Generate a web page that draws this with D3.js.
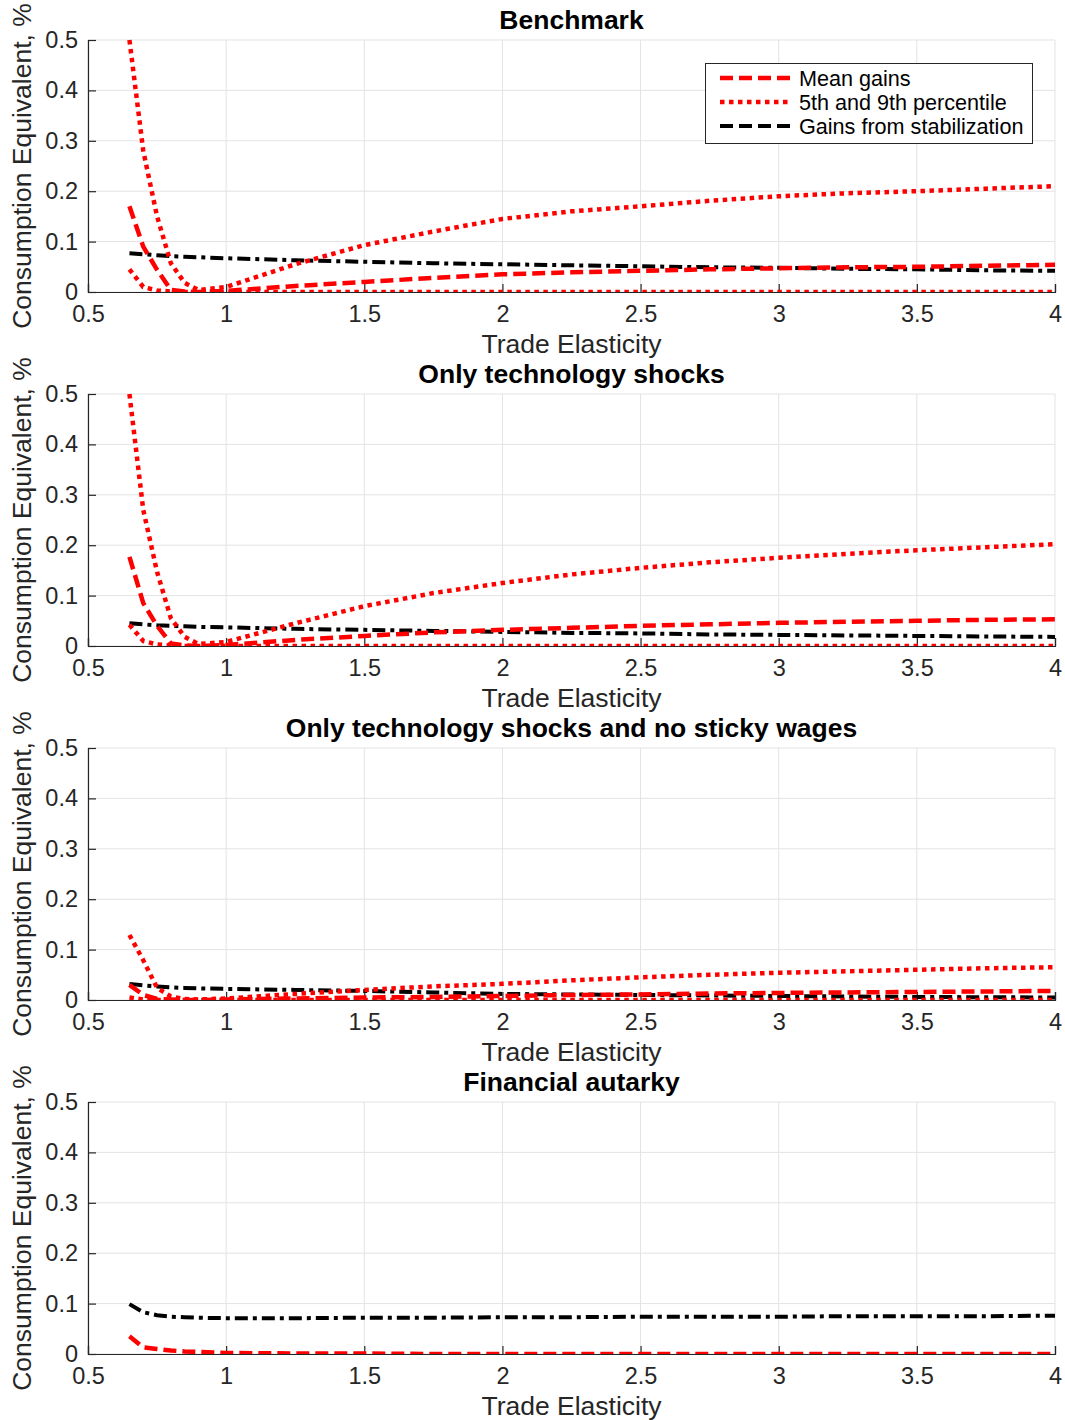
<!DOCTYPE html>
<html><head><meta charset="utf-8">
<script src="https://cdn.jsdelivr.net/npm/d3@7"></script>
<style>body{margin:0;background:#fff}svg{display:block}text{font-family:"Liberation Sans",Arial,sans-serif}</style>
</head><body>
<script>
const xs = [0.65,0.7,0.75,0.8,0.85,0.9,1.0,1.25,1.5,1.75,2,2.25,2.5,2.75,3,3.25,3.5,3.75,4];
const titles = ["Benchmark","Only technology shocks","Only technology shocks and no sticky wages","Financial autarky"];
const xTicks = [0.5,1,1.5,2,2.5,3,3.5,4];
const yTicks = [0,0.1,0.2,0.3,0.4,0.5];
const legendLabels = ["Mean gains","5th and 9th percentile","Gains from stabilization"];

const mean1 = [0.17,0.09,0.044,0.004,0.001,0.0,0.002,0.012,0.02,0.028,0.035,0.039,0.042,0.045,0.047,0.049,0.05,0.052,0.054];
const p95_1 = [0.50,0.28,0.15,0.057,0.018,0.004,0.01,0.055,0.093,0.12,0.145,0.16,0.17,0.181,0.19,0.196,0.2,0.205,0.21];
const p5_1  = [0.045,0.01,0.003,0.001,0,0,0,0,0,0,0,0,0,0,0,0,0,0,0];
const gain1 = [0.077,0.075,0.073,0.071,0.07,0.069,0.067,0.063,0.06,0.057,0.055,0.053,0.051,0.049,0.048,0.046,0.045,0.043,0.042];

const mean2 = [0.177,0.085,0.04,0.005,0.001,0,0.002,0.012,0.02,0.027,0.032,0.036,0.04,0.043,0.046,0.048,0.05,0.052,0.053];
const p95_2 = [0.50,0.27,0.147,0.055,0.018,0.004,0.008,0.045,0.079,0.105,0.125,0.142,0.155,0.166,0.175,0.183,0.19,0.196,0.202];
const p5_2  = [0.042,0.01,0.003,0.001,0,0,0,0,0,0,0,0,0,0,0,0,0,0,0];
const gain2 = [0.045,0.043,0.041,0.04,0.039,0.038,0.037,0.034,0.032,0.03,0.028,0.026,0.025,0.023,0.022,0.021,0.02,0.019,0.018];

const mean3 = [0.03,0.01,0.002,0.001,0,0,0.001,0.003,0.005,0.006,0.008,0.01,0.011,0.013,0.014,0.015,0.016,0.017,0.018];
const p95_3 = [0.129,0.079,0.024,0.007,0.002,0.001,0.003,0.012,0.02,0.027,0.032,0.039,0.045,0.05,0.054,0.057,0.06,0.063,0.065];
const p5_3  = [0.005,0.001,0,0,0,0,0,0,0,0,0,0,0,0,0,0,0,0,0];
const gain3 = [0.032,0.029,0.027,0.025,0.024,0.023,0.022,0.02,0.018,0.015,0.012,0.011,0.01,0.009,0.008,0.007,0.006,0.0055,0.005];

const mean4 = [0.035,0.013,0.01,0.007,0.005,0.004,0.002,0.001,0.001,0,0,0,0,0,0,0,0,0,0];
const gain4 = [0.099,0.083,0.077,0.074,0.073,0.072,0.071,0.071,0.072,0.072,0.073,0.073,0.074,0.074,0.074,0.075,0.075,0.075,0.076];

const panels = [
  {mean:mean1,p95:p95_1,p5:p5_1,gain:gain1},
  {mean:mean2,p95:p95_2,p5:p5_2,gain:gain2},
  {mean:mean3,p95:p95_3,p5:p5_3,gain:gain3},
  {mean:mean4,p95:null,p5:null,gain:gain4}
];

const W=1065,H=1420;
const svg=d3.select("body").append("svg").attr("width",W).attr("height",H);
const L=88,R=1055,PH=252,step=354,top0=40;
const x=d3.scaleLinear().domain([0.5,4]).range([L,R]);

const styles = {
  mean:{stroke:"#ff0000",w:4.5,dash:"13,6"},
  pct:{stroke:"#ff0000",w:4.5,dash:"4.5,4.5"},
  gain:{stroke:"#000",w:4,dash:"13,5,4,5"}
};

panels.forEach((p,i)=>{
  const t=top0+i*step;
  const y=d3.scaleLinear().domain([0,0.5]).range([t+PH,t]);
  const g=svg.append("g");
  g.selectAll(".gx").data(xTicks).enter().append("line")
    .attr("x1",d=>x(d)).attr("x2",d=>x(d)).attr("y1",t).attr("y2",t+PH)
    .attr("stroke","#e3e3e3").attr("stroke-width",1);
  g.selectAll(".gy").data(yTicks).enter().append("line")
    .attr("x1",L).attr("x2",R).attr("y1",d=>y(d)).attr("y2",d=>y(d))
    .attr("stroke","#e3e3e3").attr("stroke-width",1);
  const ax=d3.axisBottom(x).tickValues(xTicks).tickSize(-8).tickPadding(14).tickFormat(d3.format("~g"));
  const gx=g.append("g").attr("transform",`translate(0,${t+PH})`).call(ax);
  const ay=d3.axisLeft(y).tickValues(yTicks).tickSize(-8).tickPadding(10).tickFormat(d3.format("~g"));
  const gy=g.append("g").attr("transform",`translate(${L},0)`).call(ay);
  [gx,gy].forEach(a=>{
    a.select(".domain").attr("stroke","#262626").attr("stroke-width",1.2);
    a.selectAll(".tick line").attr("stroke","#262626").attr("stroke-width",1.2);
    a.selectAll(".tick text").attr("fill","#262626").style("font-size","23.5px").style("font-family",'"Liberation Sans",Arial,sans-serif');
  });
  gx.selectAll(".tick text").attr("dy","0.71em").attr("y",13);
  g.append("text").attr("x",(L+R)/2).attr("y",t+PH+61).attr("text-anchor","middle")
    .attr("fill","#262626").style("font-size","26.5px").text("Trade Elasticity");
  g.append("text").attr("transform",`translate(31,${t+PH/2}) rotate(-90)`).attr("text-anchor","middle")
    .attr("fill","#262626").style("font-size","26.5px").text("Consumption Equivalent, %");
  g.append("text").attr("x",(L+R)/2).attr("y",t-11).attr("text-anchor","middle")
    .attr("fill","#000").style("font-size","26.5px").style("font-weight","bold").text(titles[i]);
  const line=d3.line().x((d,j)=>x(xs[j])).y(d=>y(d));
  const clip="clip"+i;
  svg.append("clipPath").attr("id",clip).append("rect").attr("x",L).attr("y",t-3).attr("width",R-L+3).attr("height",PH+3);
  const lg=g.append("g").attr("clip-path",`url(#${clip})`);
  const draw=(arr,s)=>lg.append("path").datum(arr).attr("d",line).attr("fill","none")
    .attr("stroke",s.stroke).attr("stroke-width",s.w).attr("stroke-dasharray",s.dash);
  draw(p.gain,styles.gain);
  draw(p.mean,styles.mean);
  if(p.p95) draw(p.p95,styles.pct);
  if(p.p5) draw(p.p5,styles.pct);
});

const lgd=svg.append("g");
lgd.append("rect").attr("x",705.5).attr("y",63.5).attr("width",327).attr("height",80)
  .attr("fill","#fff").attr("stroke","#262626").attr("stroke-width",1);
const lstyles=[styles.mean,styles.pct,styles.gain];
legendLabels.forEach((lab,k)=>{
  const yy=78+k*24;
  lgd.append("line").attr("x1",720).attr("x2",792).attr("y1",yy).attr("y2",yy)
    .attr("stroke",lstyles[k].stroke).attr("stroke-width",lstyles[k].w).attr("stroke-dasharray",k==1?"4.5,4.5":"13,6");
  lgd.append("text").attr("x",799).attr("y",yy+7.5).attr("fill","#000").style("font-size","21.6px").text(lab);
});
</script>
</body></html>
